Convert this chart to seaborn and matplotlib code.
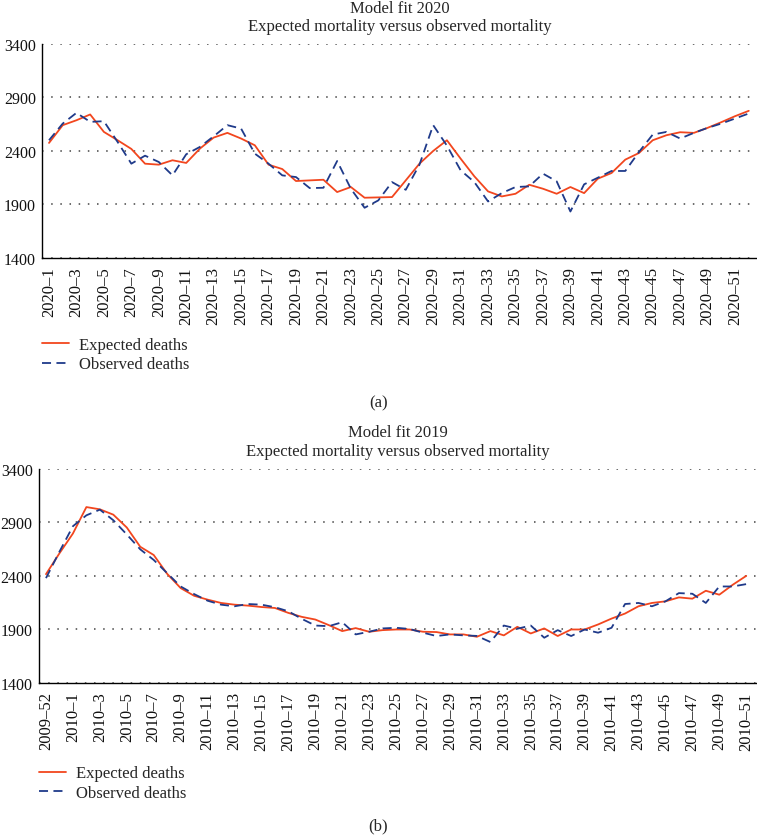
import numpy as np
import pandas as pd
import matplotlib
matplotlib.use("Agg")
import matplotlib.pyplot as plt
import seaborn as sns

# ---------------- data ----------------
weeks_2020 = [f"2020–{w}" for w in range(1, 53)]
expected_2020 = [2475, 2641, 2687, 2741, 2578, 2500, 2419, 2281, 2272, 2313,
                 2288, 2422, 2525, 2569, 2516, 2453, 2272, 2231, 2119, 2125,
                 2131, 2016, 2063, 1963, 1966, 1969, 2125, 2281, 2400, 2500,
                 2328, 2163, 2022, 1975, 2000, 2084, 2047, 2000, 2063, 2006,
                 2141, 2194, 2319, 2381, 2500, 2547, 2575, 2569, 2616, 2669,
                 2725, 2775]
observed_2020 = [2500, 2656, 2756, 2672, 2678, 2484, 2281, 2356, 2297, 2172,
                 2369, 2438, 2537, 2641, 2609, 2375, 2281, 2172, 2156, 2053,
                 2056, 2306, 2047, 1869, 1938, 2109, 2037, 2272, 2641, 2450,
                 2219, 2109, 1928, 2006, 2063, 2069, 2188, 2116, 1834, 2088,
                 2150, 2213, 2213, 2391, 2553, 2578, 2516, 2569, 2616, 2656,
                 2703, 2750]

weeks_2019 = ["2009–52", "2009–53"] + [f"2010–{w}" for w in range(1, 52)]
expected_2019 = [2417, 2612, 2797, 3044, 3023, 2973, 2853, 2673, 2596, 2420,
                 2287, 2215, 2179, 2148, 2132, 2123, 2110, 2101, 2055, 2018,
                 1993, 1941, 1885, 1913, 1879, 1894, 1900, 1900, 1879, 1876,
                 1854, 1854, 1832, 1885, 1845, 1925, 1863, 1910, 1839, 1900,
                 1900, 1947, 2002, 2049, 2117, 2148, 2163, 2200, 2188, 2262,
                 2225, 2318, 2401]
observed_2019 = [2380, 2627, 2865, 2967, 3020, 2921, 2788, 2649, 2550, 2426,
                 2302, 2231, 2169, 2132, 2117, 2138, 2132, 2108, 2070, 1999,
                 1937, 1931, 1968, 1854, 1879, 1910, 1916, 1905, 1870, 1839,
                 1854, 1845, 1840, 1783, 1937, 1907, 1937, 1823, 1894, 1839,
                 1900, 1870, 1916, 2138, 2148, 2117, 2163, 2240, 2234, 2148,
                 2302, 2302, 2324]

y_ticks = [1400, 1900, 2400, 2900, 3400]
series_names = ["Expected deaths", "Observed deaths"]
colors = {"Expected deaths": "#F2461E", "Observed deaths": "#1F3A8A"}
dashes = {"Expected deaths": "", "Observed deaths": (5, 3)}

sns.set_style("white")
plt.rcParams["font.family"] = ["Liberation Serif", "DejaVu Serif"]
plt.rcParams["font.size"] = 12


def long_frame(weeks, expected, observed):
    a = pd.DataFrame({"week": weeks, "deaths": expected, "series": series_names[0]})
    b = pd.DataFrame({"week": weeks, "deaths": observed, "series": series_names[1]})
    return pd.concat([a, b], ignore_index=True)


def draw_panel(ax, weeks, expected, observed, xlim, leg_y):
    data = long_frame(weeks, expected, observed)
    sns.lineplot(data=data, x="week", y="deaths", hue="series", style="series",
                 hue_order=series_names, style_order=series_names,
                 palette=colors, dashes=dashes, sort=False, lw=1.3, ax=ax)
    ax.set_ylim(1400, 3400)
    ax.set_yticks(y_ticks)
    ax.set_xticks(range(0, len(weeks), 2))
    ax.set_xticklabels(weeks[::2], rotation=90)
    ax.set_xlim(*xlim)
    ax.set_xlabel("")
    ax.set_ylabel("")
    ax.yaxis.grid(True, color="#444444", lw=1.1, linestyle=(0, (1, 5)))
    ax.xaxis.grid(False)
    ax.tick_params(axis="x", length=0, pad=6, labelsize=12, colors="#111111")
    ax.tick_params(axis="y", length=0, pad=4.5, labelsize=11.5, colors="#111111")
    for s in ["top", "right"]:
        ax.spines[s].set_visible(False)
    for s in ["left", "bottom"]:
        ax.spines[s].set_color("black")
        ax.spines[s].set_linewidth(1.0)
    sns.move_legend(ax, "upper left", bbox_to_anchor=(0, leg_y), frameon=False,
                    title=None, borderpad=0, borderaxespad=0, handlelength=1.6,
                    handletextpad=0.6, labelspacing=0.2, fontsize=12)


fig = plt.figure(figsize=(7.57, 8.37), dpi=100)
ax1 = fig.add_axes([0.0555, 0.6906, 0.9445, 0.2557])
ax2 = fig.add_axes([0.0515, 0.1828, 0.9485, 0.2557])

draw_panel(ax1, weeks_2020, expected_2020, observed_2020, (-0.51, 51.6), -0.37)
draw_panel(ax2, weeks_2019, expected_2019, observed_2019, (-0.52, 52.8), -0.385)

subtitle = "Expected mortality versus observed mortality"
fig.text(0.528, 0.9892, "Model fit 2020", ha="center", va="center", fontsize=12)
fig.text(0.528, 0.9682, subtitle, ha="center", va="center", fontsize=12)
fig.text(0.526, 0.4827, "Model fit 2019", ha="center", va="center", fontsize=12)
fig.text(0.526, 0.4600, subtitle, ha="center", va="center", fontsize=12)

fig.text(0.5, 0.518, "(a)", ha="center", va="center", fontsize=12)
fig.text(0.5, 0.013, "(b)", ha="center", va="center", fontsize=12)

fig.savefig("out.png", dpi=100)
